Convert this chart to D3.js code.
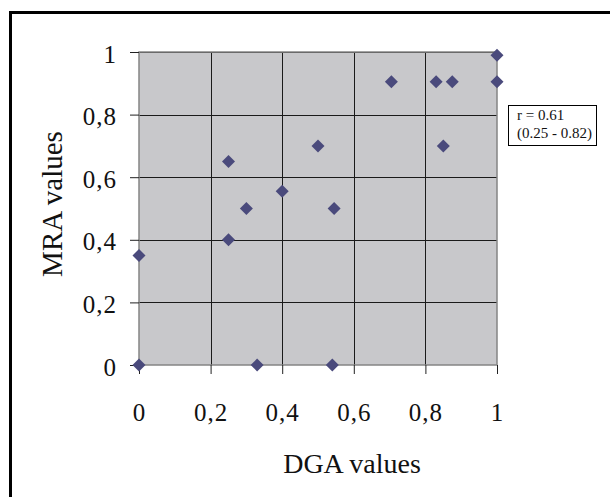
<!DOCTYPE html>
<head>
  <meta charset="utf-8">
  <title>MRA vs DGA</title>
  <script src="https://d3js.org/d3.v7.min.js"></script>
  <style>
    body { margin: 0; background: #fff; }
    .tick line { stroke: #222; }
    .grid-line { stroke: #1a1a1a; stroke-width: 1px; }
    .point { fill: #4a4a7c; }
  </style>
</head>
<body>
  <script>
    var width = 610,
        height = 497;
    var serif = "'Liberation Serif', 'Times New Roman', serif";

    // DGA (x) / MRA (y) pairs
    var dgaValues = [0, 0, 0.25, 0.25, 0.3, 0.4, 0.5, 0.545, 0.33, 0.54, 0.705, 0.83, 0.875, 0.85, 1, 1];
    var mraValues = [0.35, 0, 0.65, 0.4, 0.5, 0.555, 0.7, 0.5, 0, 0, 0.905, 0.905, 0.905, 0.7, 0.99, 0.905];
    var tickValues = [0, 0.2, 0.4, 0.6, 0.8, 1];
    var noteLines = ["r = 0.61", "(0.25 - 0.82)"];

    var points = dgaValues.map(function(d, i) { return {x: d, y: mraValues[i]}; });

    var plot = {left: 139, right: 497, top: 52, bottom: 365};

    var svg = d3.select("body").append("svg")
        .attr("width", width)
        .attr("height", height)
        .style("display", "block");

    // outer frame (runs off the right and bottom edges)
    svg.append("path")
        .attr("d", "M" + (width + 5) + ",12.5 H10.5 V" + (height + 5))
        .attr("fill", "none")
        .attr("stroke", "#000")
        .attr("stroke-width", 3);

    var x = d3.scaleLinear().domain([0, 1]).range([plot.left, plot.right]);
    var y = d3.scaleLinear().domain([0, 1]).range([plot.bottom, plot.top]);

    var fmt = function(d) { return d3.format("")(d).replace(".", ","); };

    svg.append("rect")
        .attr("x", plot.left)
        .attr("y", plot.top)
        .attr("width", plot.right - plot.left)
        .attr("height", plot.bottom - plot.top)
        .attr("fill", "#c8c8cb");

    // grid
    svg.append("g").selectAll("line")
      .data(tickValues.slice(1))
      .enter().append("line")
        .attr("class", "grid-line")
        .attr("x1", plot.left).attr("x2", plot.right)
        .attr("y1", function(d) { return Math.round(y(d)) + 0.5; })
        .attr("y2", function(d) { return Math.round(y(d)) + 0.5; });

    svg.append("g").selectAll("line")
      .data(tickValues.slice(1, -1))
      .enter().append("line")
        .attr("class", "grid-line")
        .attr("y1", plot.top).attr("y2", plot.bottom)
        .attr("x1", function(d) { return Math.round(x(d)) + 0.5; })
        .attr("x2", function(d) { return Math.round(x(d)) + 0.5; });

    // plot border
    svg.append("rect")
        .attr("x", plot.left)
        .attr("y", plot.top)
        .attr("width", plot.right - plot.left)
        .attr("height", plot.bottom - plot.top)
        .attr("fill", "none")
        .attr("stroke", "#858585")
        .attr("stroke-width", 1.5);

    var xAxis = d3.axisBottom(x).tickValues(tickValues).tickFormat(fmt).tickSize(9).tickPadding(29);
    var yAxis = d3.axisLeft(y).tickValues(tickValues).tickFormat(fmt).tickSize(9).tickPadding(13);

    var xg = svg.append("g")
        .attr("transform", "translate(0," + plot.bottom + ")")
        .call(xAxis);
    xg.select(".domain").remove();

    var yg = svg.append("g")
        .attr("transform", "translate(" + plot.left + ",0)")
        .call(yAxis);
    yg.select(".domain").remove();
    yg.selectAll(".tick text").attr("dy", "0.4em");

    svg.selectAll(".tick text")
        .attr("font-family", serif)
        .attr("font-size", 25)
        .attr("letter-spacing", 1)
        .attr("fill", "#111");

    svg.append("text")
        .attr("x", 352)
        .attr("y", 473)
        .attr("text-anchor", "middle")
        .attr("font-family", serif)
        .attr("font-size", 28)
        .attr("fill", "#111")
        .text("DGA values");

    svg.append("text")
        .attr("transform", "translate(62,204) rotate(-90)")
        .attr("text-anchor", "middle")
        .attr("font-family", serif)
        .attr("font-size", 29)
        .attr("fill", "#111")
        .text("MRA values");

    // diamonds
    svg.append("g").selectAll("path")
      .data(points)
      .enter().append("path")
        .attr("class", "point")
        .attr("d", "M0,-6.5 L6.5,0 L0,6.5 L-6.5,0 Z")
        .attr("transform", function(d) { return "translate(" + x(d.x) + "," + y(d.y) + ")"; });

    // correlation note
    svg.append("rect")
        .attr("x", 508.5).attr("y", 105.5)
        .attr("width", 88).attr("height", 40)
        .attr("fill", "#fff")
        .attr("stroke", "#000");

    svg.append("g").selectAll("text")
      .data(noteLines)
      .enter().append("text")
        .attr("x", 517)
        .attr("y", function(d, i) { return 120 + i * 18; })
        .attr("font-family", serif)
        .attr("font-size", 15)
        .attr("fill", "#111")
        .text(function(d) { return d; });
  </script>
</body>
